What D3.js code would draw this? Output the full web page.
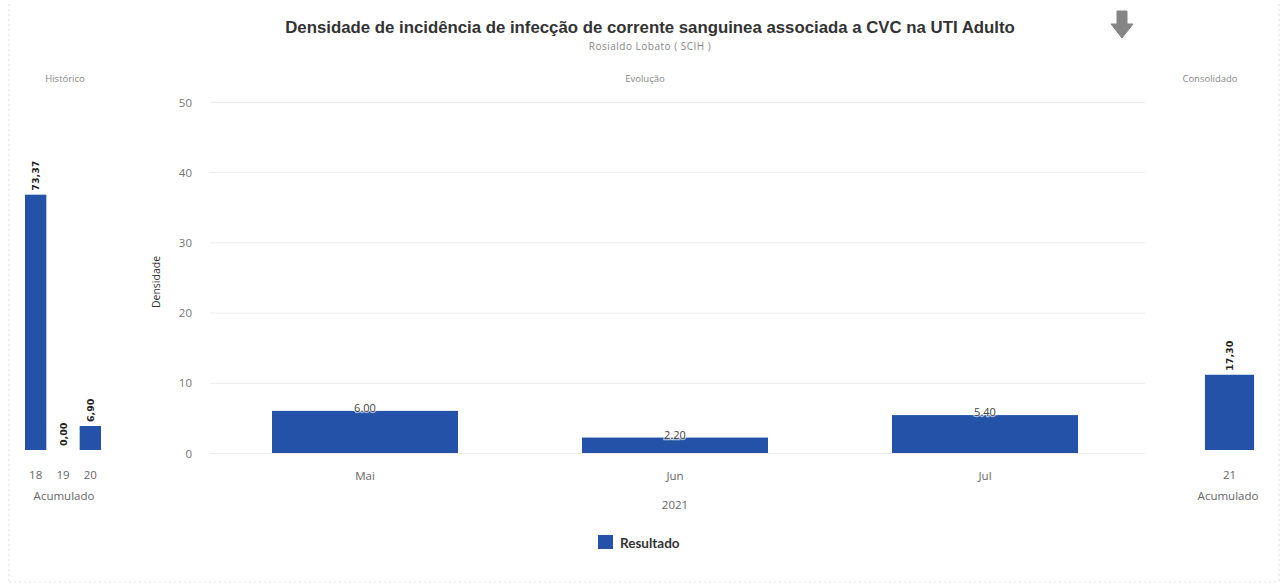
<!DOCTYPE html>
<html><head><meta charset="utf-8">
<script src="https://cdn.jsdelivr.net/npm/d3@7/dist/d3.min.js"></script>
<style>
html,body{margin:0;padding:0;background:#fff;}
svg{display:block;}
</style></head>
<body>
<svg id="chart" width="1286" height="586"></svg>
<script>
// ---- data ----
const title = "Densidade de incidência de infecção de corrente sanguinea associada a CVC na UTI Adulto";
const subtitle = "Rosialdo Lobato ( SCIH )";
const histCategories = ["18", "19", "20"];
const histValues = [73.37, 0.00, 6.90];
const months = ["Mai", "Jun", "Jul"];
const monthValues = [6.00, 2.20, 5.40];
const yearLabel = "2021";
const consCategories = ["21"];
const consValues = [17.30];
const yTicks = [0, 10, 20, 30, 40, 50];
const seriesName = "Resultado";

const barColor = "#2352a8";
const svg = d3.select("#chart");
const fontThin = "'Open Sans', 'Noto Sans', sans-serif";

// borders
svg.append("line").attr("x1", 9).attr("x2", 9).attr("y1", 4).attr("y2", 582)
  .attr("stroke", "#dcdcdc").attr("stroke-dasharray", "2,3");
svg.append("line").attr("x1", 1279).attr("x2", 1279).attr("y1", 4).attr("y2", 582)
  .attr("stroke", "#dcdcdc").attr("stroke-dasharray", "2,3");
svg.append("line").attr("x1", 9).attr("x2", 1279).attr("y1", 582).attr("y2", 582)
  .attr("stroke", "#e8e8e8").attr("stroke-dasharray", "2,3");

// title (sized to the reference width)
const t = svg.append("text").attr("x", 650).attr("y", 33).attr("text-anchor", "middle")
  .attr("font-family", "'Liberation Sans', Arial, sans-serif").attr("font-weight", "bold")
  .attr("font-size", 15).attr("fill", "#333").text(title);
const tl = t.node().getComputedTextLength();
t.attr("font-size", 15 * 730 / tl);

svg.append("text").attr("x", 650).attr("y", 50).attr("text-anchor", "middle")
  .attr("font-family", fontThin).attr("font-size", 10).attr("letter-spacing", 0.5)
  .attr("fill", "#888").text(subtitle);

// download arrow icon
svg.append("path")
  .attr("d", "M1117,11 L1127,11 L1127,24 L1133,24 L1122,38 L1111,24 L1117,24 Z")
  .attr("fill", "#858585").attr("stroke", "#858585").attr("stroke-width", 1).attr("stroke-linejoin", "round");

// section headers
const headers = [["Histórico", 65], ["Evolução", 645], ["Consolidado", 1210]];
svg.selectAll("text.hdr").data(headers).join("text").attr("class", "hdr")
  .attr("x", d => d[1]).attr("y", 82).attr("text-anchor", "middle")
  .attr("font-family", fontThin).attr("font-size", 9.5).attr("fill", "#888").text(d => d[0]);

// ---- main chart ----
const y = d3.scaleLinear().domain([0, 50]).range([453, 102]);
const x = d3.scaleBand().domain(months).range([210, 1140]).paddingInner(0.4).paddingOuter(0.2);

const g = svg.append("g");
g.selectAll("line.grid").data(yTicks).join("line").attr("class", "grid")
  .attr("x1", 210).attr("x2", 1145).attr("y1", d => y(d) + 0.5).attr("y2", d => y(d) + 0.5)
  .attr("stroke", "#ececec").attr("stroke-width", 1);

const yAxis = d3.axisLeft(y).tickValues(yTicks).tickSize(0).tickPadding(0);
const ya = g.append("g").attr("transform", "translate(192,0)").call(yAxis);
ya.select(".domain").remove();
ya.selectAll("text").attr("font-family", fontThin).attr("font-size", 11.5).attr("fill", "#777")
  .attr("dy", "0.35em");

svg.append("text").attr("transform", "translate(160,282) rotate(-90)").attr("text-anchor", "middle")
  .attr("font-family", fontThin).attr("font-size", 10.5).attr("fill", "#333").text("Densidade");

g.selectAll("rect.bar").data(monthValues).join("rect").attr("class", "bar")
  .attr("x", (d, i) => x(months[i])).attr("width", x.bandwidth())
  .attr("y", d => y(d)).attr("height", d => y(0) - y(d)).attr("fill", barColor);

g.selectAll("text.val").data(monthValues).join("text").attr("class", "val")
  .attr("x", (d, i) => x(months[i]) + x.bandwidth() / 2).attr("y", d => y(d) + 1)
  .attr("text-anchor", "middle").attr("font-family", fontThin).attr("font-size", 11)
  .attr("fill", "#444").attr("stroke", "#fff").attr("stroke-width", 2.5).attr("paint-order", "stroke")
  .attr("stroke-opacity", 0.6)
  .text(d => d.toFixed(2));

const xAxis = d3.axisBottom(x).tickSize(0).tickPadding(0);
const xa = g.append("g").attr("transform", "translate(0,472)").call(xAxis);
xa.select(".domain").remove();
xa.selectAll("text").attr("font-family", fontThin).attr("font-size", 11.5).attr("fill", "#666");

svg.append("text").attr("x", x("Jun") + x.bandwidth() / 2).attr("y", 509).attr("text-anchor", "middle")
  .attr("font-family", fontThin).attr("font-size", 11.5).attr("fill", "#666").text(yearLabel);

// legend
svg.append("rect").attr("x", 598).attr("y", 535).attr("width", 15).attr("height", 14).attr("fill", barColor);
svg.append("text").attr("x", 620).attr("y", 548).attr("font-family", "Lato, 'Open Sans', sans-serif")
  .attr("font-weight", "bold").attr("font-size", 13.5).attr("fill", "#333").text(seriesName);

// ---- side panels ----
function sidePanel(cats, vals, range, maxVal, labelX) {
  const ys = d3.scaleLinear().domain([0, maxVal]).range([450, 102]);
  const xs = d3.scaleBand().domain(cats).range(range).paddingInner(0.22).paddingOuter(0.11);
  const p = svg.append("g");
  p.selectAll("rect").data(vals).join("rect")
    .attr("x", (d, i) => xs(cats[i])).attr("width", xs.bandwidth())
    .attr("y", d => ys(d)).attr("height", d => ys(0) - ys(d)).attr("fill", barColor);
  p.selectAll("text.lbl").data(vals).join("text").attr("class", "lbl")
    .attr("transform", (d, i) => `translate(${xs(cats[i]) + xs.bandwidth() / 2 + 3.5},${ys(d) - 4}) rotate(-90)`)
    .attr("text-anchor", "start").attr("font-family", "'DejaVu Sans', sans-serif").attr("font-weight", "bold")
    .attr("font-size", 9.5).attr("fill", "#222").text(d => d.toFixed(2).replace(".", ","));
  const xa2 = p.append("g").attr("transform", "translate(0,471)").call(d3.axisBottom(xs).tickSize(0).tickPadding(0));
  xa2.select(".domain").remove();
  xa2.selectAll("text").attr("font-family", fontThin).attr("font-size", 11.5).attr("fill", "#666");
  p.append("text").attr("x", labelX).attr("y", 500).attr("text-anchor", "middle")
    .attr("font-family", fontThin).attr("font-size", 11.5).attr("fill", "#666").text("Acumulado");
}
sidePanel(histCategories, histValues, [22, 104], 100, 64);
sidePanel(consCategories, consValues, [1198, 1261], 80, 1228);
</script>
</body></html>
